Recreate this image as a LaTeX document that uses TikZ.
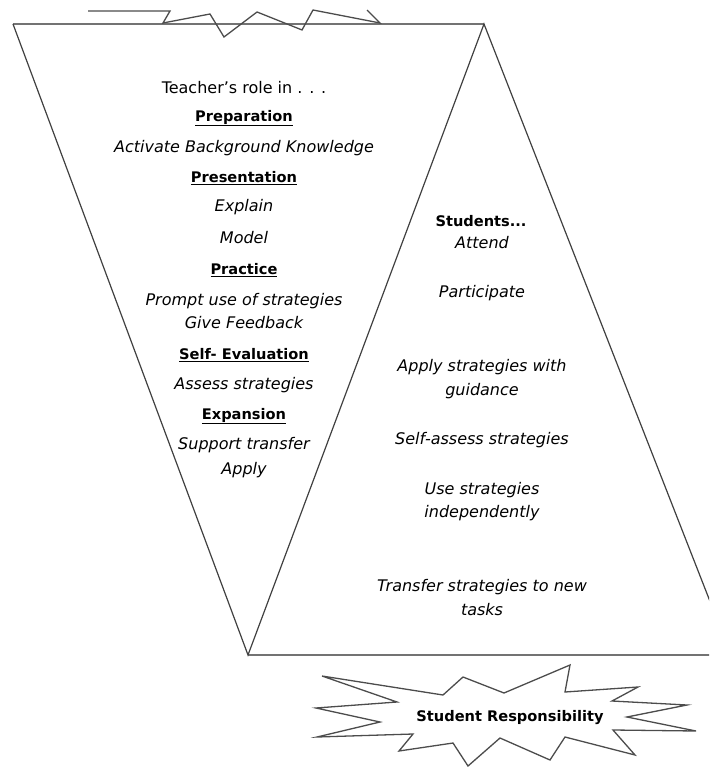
\documentclass[tikz,border=0pt]{standalone}
\usepackage{fontspec}
\setmainfont{DejaVu Sans}
\begin{document}
\begin{tikzpicture}[x=1pt,y=-1pt,line join=miter]
\tikzset{
  edge/.style={draw=black!75,line width=1.2pt},
  rule/.style={draw=black!55,line width=1.8pt},
  starline/.style={draw=black!70,line width=1.3pt},
  it/.style={font=\fontsize{16}{19}\selectfont\itshape,inner sep=0pt,align=center},
  rm/.style={font=\fontsize{16}{19}\selectfont,inner sep=0pt},
  hd/.style={font=\fontsize{14.6}{18}\selectfont\bfseries,inner sep=0pt},
}
\useasboundingbox (0,0) rectangle (709,767);
\clip (0,0) rectangle (709,767);
% triangle corners
\coordinate (A) at (13,24);
\coordinate (B) at (484,24);
\coordinate (C) at (248,655);
\coordinate (D) at (731,655);
\draw[rule] (A) -- (B);
\draw[rule] (C) -- (D);
\draw[edge] (A) -- (C) -- (B) -- (D);
% top star (mostly cut off)
\begin{scope}
\clip (0,9.5) rectangle (709,100);
\draw[starline] (88,11) -- (170,11) -- (163,23) -- (210,14) -- (224,37) -- (257,12)
  -- (302,30) -- (313,10) -- (380,23) -- (367,10);
\end{scope}
% bottom star
\draw[starline] (322,676) -- (443,695) -- (463,677) -- (504,693) -- (570,665)
  -- (565,692) -- (638,687) -- (612,701) -- (687,705) -- (627,717)
  -- (696,731) -- (613,730) -- (635,755) -- (565,737) -- (550,760)
  -- (500,738) -- (468,766) -- (453,743) -- (399,751) -- (413,734)
  -- (317,737) -- (380,722) -- (316,708) -- (397,702) -- cycle;
\node[hd] (sr) at (510,718) {Student Responsibility};
% teacher column
\node[rm] (t0) at (244,88) {Teacher's role in . . .};
\node[hd] (t1) at (244,118) {\underline{Preparation}};
\node[it] (t2) at (244,148) {Activate Background Knowledge};
\node[hd] (t3) at (244,178) {\underline{Presentation}};
\node[it] (t4) at (244,207) {Explain};
\node[it] (t5) at (244,238) {Model};
\node[hd] (t6) at (244,270) {\underline{Practice}};
\node[it] (t7) at (244,301) {Prompt use of strategies};
\node[it] (t8) at (244,323) {Give Feedback};
\node[hd] (t9) at (244,355) {\underline{Self- Evaluation}};
\node[it] (t10) at (244,385) {Assess strategies};
\node[hd] (t11) at (244,416) {\underline{Expansion}};
\node[it] (t12) at (244,445) {Support transfer};
\node[it] (t13) at (244,470) {Apply};
% student column
\node[hd] (s0) at (481,221) {Students...};
\node[it] (s1) at (482,243) {Attend};
\node[it] (s2) at (482,293) {Participate};
\node[it] (s3) at (482,367) {Apply strategies with};
\node[it] (s4) at (482,391) {guidance};
\node[it] (s5) at (482,440) {Self-assess strategies};
\node[it] (s6) at (482,490) {Use strategies};
\node[it] (s7) at (482,513) {independently};
\node[it] (s8) at (482,587) {Transfer strategies to new};
\node[it] (s9) at (482,610) {tasks};
\end{tikzpicture}
\end{document}
